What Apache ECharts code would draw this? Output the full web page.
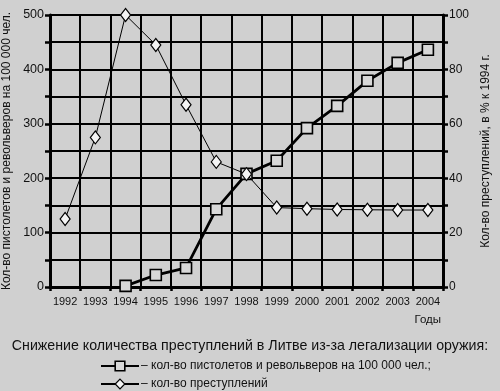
<!DOCTYPE html>
<html><head><meta charset="utf-8">
<script src="https://cdn.jsdelivr.net/npm/echarts@6/dist/echarts.min.js"></script>
<style>html,body{margin:0;padding:0;background:#d0d0d0}#c{width:500px;height:391px}</style>
</head><body><div id="c"></div>
<script>
const years = ['1992','1993','1994','1995','1996','1997','1998','1999','2000','2001','2002','2003','2004'];
const guns = [null, null, 2, 22, 35, 143, 208, 232, 292, 333, 379, 412, 436];
const crimes = [25, 55, 100, 89, 67, 46, 41.5, 29.2, 28.8, 28.5, 28.4, 28.3, 28.3];
const leftTicks = [0, 100, 200, 300, 400, 500];
const rightTicks = [0, 20, 40, 60, 80, 100];
const gunsName = 'кол-во пистолетов и револьверов на 100 000 чел.;';
const crimesName = 'кол-во преступлений';
const titleText = 'Снижение количества преступлений в Литве из-за легализации оружия:';

const font = 'Arial, "Liberation Sans", sans-serif';
const legendBase = {orient: 'horizontal', left: 95, itemWidth: 38, itemHeight: 12,
  formatter: n => '– ' + n, selectedMode: false,
  textStyle: {fontSize: 12, color: '#111', fontFamily: font, padding: [0, 0, 0, -3]}};
const chart = echarts.init(document.getElementById('c'));
chart.setOption({
  backgroundColor: '#d0d0d0',
  animation: false,
  textStyle: {fontFamily: font, color: '#111'},
  title: {text: titleText, left: 'center', top: 334,
    textStyle: {fontSize: 14.2, fontWeight: 'normal', color: '#111', fontFamily: font}},
  legend: [
    Object.assign({}, legendBase, {top: 355, data: [{name: gunsName,
      itemStyle: {color: '#d8d8d8', borderColor: '#000', borderWidth: 1.6}}]}),
    Object.assign({}, legendBase, {top: 373, data: [{name: crimesName,
      itemStyle: {color: '#f4f4f4', borderColor: '#000', borderWidth: 1.2}}]})
  ],
  grid: {left: 50, right: 57, top: 15, bottom: 104, outerBoundsMode: 'none', containLabel: false},
  xAxis: {type: 'category', data: years, boundaryGap: true,
    name: 'Годы', nameLocation: 'end', nameGap: 0,
    nameTextStyle: {fontSize: 11.5, color: '#111', align: 'right', verticalAlign: 'top', padding: [27, 2, 0, 0]},
    axisLine: {lineStyle: {color: '#000', width: 3}},
    axisTick: {show: true, length: 4, lineStyle: {color: '#000', width: 2.5}},
    axisLabel: {interval: 0, fontSize: 11, color: '#111', margin: 9},
    splitLine: {show: true, lineStyle: {color: '#000', width: 2}}},
  yAxis: [
    {type: 'value', min: 0, max: 500, interval: 50,
      name: 'Кол-во пистолетов и револьверов на 100 000 чел.', nameLocation: 'middle', nameGap: 37, nameRotate: 90,
      nameTextStyle: {fontSize: 12, color: '#111'},
      axisLine: {show: true, lineStyle: {color: '#000', width: 3}},
      axisTick: {show: true, length: 5, lineStyle: {color: '#000', width: 2.5}},
      axisLabel: {fontSize: 12.5, color: '#111', margin: 6,
        formatter: v => leftTicks.indexOf(v) >= 0 ? String(v) : ''},
      splitLine: {show: true, lineStyle: {color: '#000', width: 2}}},
    {type: 'value', min: 0, max: 100, interval: 10, position: 'right',
      name: 'Кол-во преступлений, в % к 1994 г.', nameLocation: 'middle', nameGap: 34, nameRotate: 90,
      nameTextStyle: {fontSize: 12, color: '#111'},
      axisLine: {show: true, lineStyle: {color: '#000', width: 3}},
      axisTick: {show: true, length: 5, lineStyle: {color: '#000', width: 2.5}},
      axisLabel: {fontSize: 12, color: '#111', margin: 6,
        formatter: v => rightTicks.indexOf(v) >= 0 ? String(v) : ''},
      splitLine: {show: false}}
  ],
  series: [
    {name: gunsName, type: 'line', yAxisIndex: 0, data: guns,
      symbol: 'rect', symbolSize: 11, showAllSymbol: true, connectNulls: false,
      lineStyle: {color: '#000', width: 2.8},
      itemStyle: {color: '#d8d8d8', borderColor: '#000', borderWidth: 1.6}, z: 3},
    {name: crimesName, type: 'line', yAxisIndex: 1, data: crimes,
      symbol: 'diamond', symbolSize: [10, 13], showAllSymbol: true,
      lineStyle: {color: '#000', width: 1},
      itemStyle: {color: '#f4f4f4', borderColor: '#000', borderWidth: 1.2}, z: 4}
  ]
});
</script></body></html>
